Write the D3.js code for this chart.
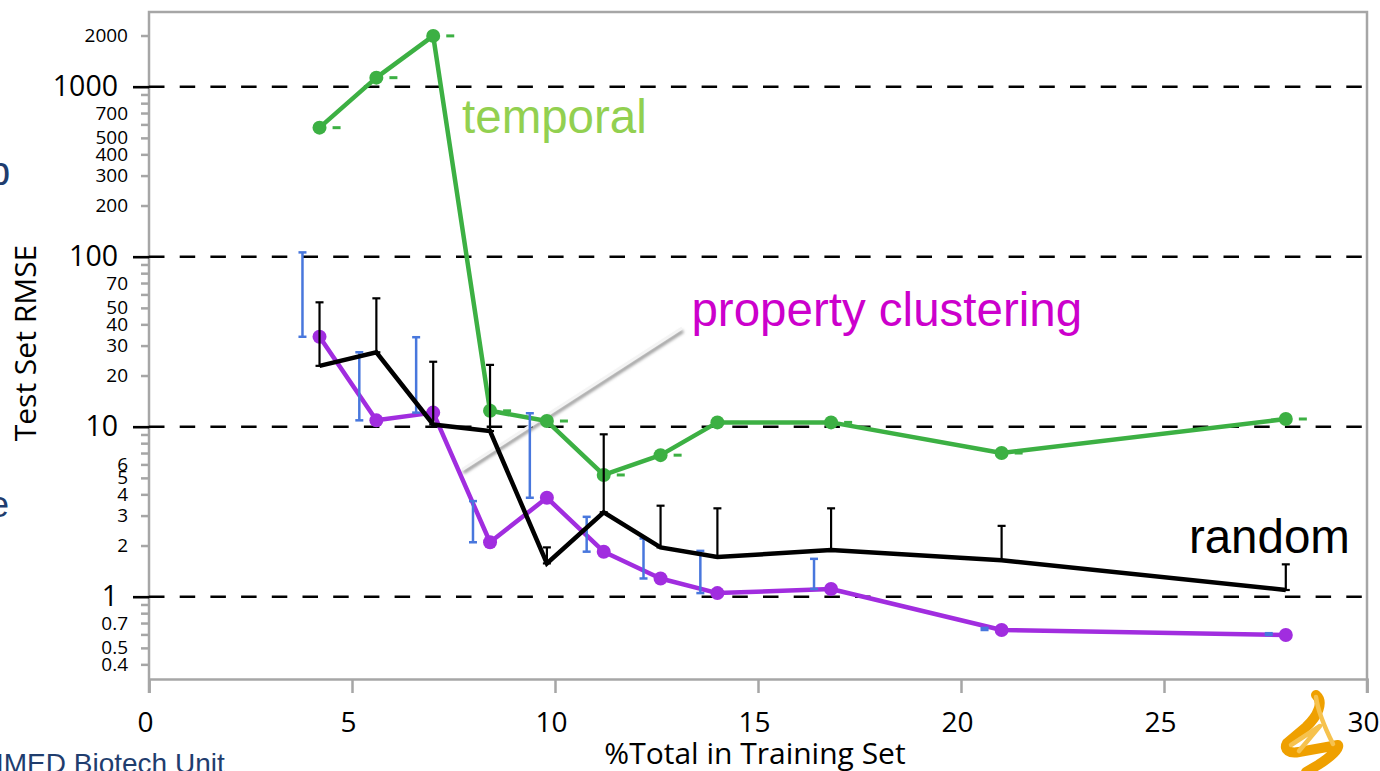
<!DOCTYPE html>
<html>
<head>
<meta charset="utf-8">
<script src="https://cdn.jsdelivr.net/npm/d3@7"></script>
<style>
html,body{margin:0;padding:0;background:#fff;}
svg{display:block;}
</style>
</head>
<body>
<svg id="chart" width="1380" height="771"></svg>
<script>
// ---- data ----
const trainPct = [4.2, 5.6, 7.0, 8.4, 9.8, 11.2, 12.6, 14.0, 16.8, 21.0, 28.0];
const temporal = [574, 1130, 1990, 12.4, 10.8, 5.2, 6.8, 10.6, 10.6, 7.0, 11.1];
const temporalErr = [0, 0, 0, 0, 0, 0, 0, 0, 0, 0, 0];
const propertyClustering = [33.8, 10.9, 12.1, 2.09, 3.82, 1.84, 1.28, 1.05, 1.11, 0.637, 0.595];
const propertyClusteringHi = [106, 27.4, 33.6, 3.65, 12.0, 2.95, 2.2, 1.86, 1.67, 0.655, 0.61];
const random = [22.8, 27.4, 10.3, 9.43, 1.57, 3.14, 1.95, 1.71, 1.88, 1.64, 1.095];
const randomHi = [53.9, 56.9, 24.1, 23.1, 1.95, 9.02, 3.43, 3.31, 3.31, 2.61, 1.55];

const xTicks = [0, 5, 10, 15, 20, 25, 30];
const yMajor = [1, 10, 100, 1000];
const yMinorTicks = [0.4,0.5,0.6,0.7,0.8,0.9, 2,3,4,5,6,7,8,9, 20,30,40,50,60,70,80,90, 200,300,400,500,600,700,800,900, 2000];
const yMinorLabels = [0.4,0.5,0.7, 2,3,4,5,6, 20,30,40,50,70, 200,300,400,500,700, 2000];

const labels = [
  {text: "temporal", x: 7.71, y: 534, color: "#92d050", anchor: "start"},
  {text: "property clustering", x: 13.36, y: 39.1, color: "#cc00cc", anchor: "start"},
  {text: "random", x: 29.58, y: 1.81, color: "#000000", anchor: "end"}
];
const leader = [[7.72, 5.6], [13.13, 38.1]];

// ---- layout ----
const svg = d3.select("#chart");
const pLeft = 149, pRight = 1367, pTop = 12, pBottom = 679;
const x = d3.scaleLinear().domain([0, 30]).range([pLeft, pRight]);
const y = d3.scaleLog().domain([0.328, 2750]).range([pBottom, pTop]);
const jitter = 0.42;
const axisGray = "#a6a6a6";
const fontUI = "'Open Sans','Noto Sans',sans-serif";

svg.append("rect").attr("width", 1380).attr("height", 771).attr("fill", "#fff");

// slide remnants
svg.append("text").attr("x", -12).attr("y", 185).attr("font-family", "Liberation Sans, Arial")
  .attr("font-size", 40).attr("fill", "#1f3d6e").text("b");
svg.append("text").attr("x", -11).attr("y", 517).attr("font-family", "Liberation Sans, Arial")
  .attr("font-size", 36).attr("fill", "#1f3d6e").text("e");
svg.append("text").attr("x", -4).attr("y", 773).attr("font-family", "Liberation Sans, Arial")
  .attr("font-size", 28).attr("fill", "#1f3d6e").text("IMED Biotech Unit");

// frame
const g = svg.append("g");
g.append("path")
  .attr("d", `M${pLeft},${pBottom + 14}V${pTop}H${pRight}V${pBottom + 14}`)
  .attr("fill", "none").attr("stroke", axisGray).attr("stroke-width", 2.5);

// x axis
const xAxis = d3.axisBottom(x).tickValues(xTicks).tickSize(14).tickFormat(d3.format("d"));
const gx = g.append("g").attr("transform", `translate(0,${pBottom})`).call(xAxis);
gx.select(".domain").attr("stroke", axisGray).attr("stroke-width", 2.5);
gx.selectAll(".tick line").attr("stroke", axisGray).attr("stroke-width", 2.5);
gx.selectAll(".tick text").attr("font-family", fontUI).attr("font-size", 28)
  .attr("fill", "#000").attr("dy", "1.3em").attr("dx", "-4");

// y minor ticks
const yMinorAxis = d3.axisLeft(y).tickValues(yMinorTicks).tickSize(8)
  .tickFormat(d => yMinorLabels.includes(d) ? String(d) : "");
const gyMinor = g.append("g").attr("transform", `translate(${pLeft},0)`).call(yMinorAxis);
gyMinor.select(".domain").remove();
gyMinor.selectAll(".tick line").attr("stroke", axisGray).attr("stroke-width", 2.5);
gyMinor.selectAll(".tick text").attr("font-family", fontUI).attr("font-size", 19)
  .attr("fill", "#000").attr("x", -21);

// y major ticks (dashed gridlines)
const yMajorAxis = d3.axisLeft(y).tickValues(yMajor).tickSize(16).tickFormat(d3.format("d"));
const gyMajor = g.append("g").attr("transform", `translate(${pLeft},0)`).call(yMajorAxis);
gyMajor.select(".domain").remove();
gyMajor.selectAll(".tick line").attr("stroke", "#000").attr("stroke-width", 2.6);
gyMajor.selectAll(".tick text").attr("font-family", fontUI).attr("font-size", 28.5)
  .attr("fill", "#000").attr("x", -31);
g.selectAll("line.grid").data(yMajor).join("line").attr("class", "grid")
  .attr("x1", pLeft).attr("x2", pRight).attr("y1", d => y(d)).attr("y2", d => y(d))
  .attr("stroke", "#000").attr("stroke-width", 2.6).attr("stroke-dasharray", "15.5,15.2");

// axis titles
svg.append("text").attr("x", 755).attr("y", 764).attr("text-anchor", "middle")
  .attr("font-family", fontUI).attr("font-size", 30).attr("fill", "#000").text("%Total in Training Set");
svg.append("text").attr("transform", "translate(36,343) rotate(-90)").attr("text-anchor", "middle")
  .attr("font-family", fontUI).attr("font-size", 30).attr("fill", "#000").text("Test Set RMSE");

// leader line with shadow
const defs = svg.append("defs");
defs.append("filter").attr("id", "sh").attr("x", "-20%").attr("y", "-20%").attr("width", "140%").attr("height", "140%")
  .append("feGaussianBlur").attr("stdDeviation", 1.5);
const lead = d3.line().x(d => x(d[0])).y(d => y(d[1]));
g.append("path").attr("d", lead(leader)).attr("transform", "translate(1,3)")
  .attr("stroke", "#9a9a9a").attr("stroke-width", 3.5).attr("fill", "none").attr("filter", "url(#sh)");
g.append("path").attr("d", lead(leader)).attr("stroke", "#f4f4f4").attr("stroke-width", 3).attr("fill", "none");

const line = d3.line().x((d, i) => x(trainPct[i])).y(d => y(d));

// temporal
const green = "#3cb043";
g.append("path").datum(temporal).attr("d", line).attr("fill", "none")
  .attr("stroke", green).attr("stroke-width", 4.5).attr("stroke-linejoin", "round");
g.selectAll("circle.tmp").data(temporal).join("circle").attr("class", "tmp")
  .attr("cx", (d, i) => x(trainPct[i])).attr("cy", d => y(d)).attr("r", 7).attr("fill", green);
g.selectAll("line.tmpErr").data(temporal).join("line").attr("class", "tmpErr")
  .attr("x1", (d, i) => x(trainPct[i] + jitter) - 4).attr("x2", (d, i) => x(trainPct[i] + jitter) + 4)
  .attr("y1", (d, i) => y(d * (1 + temporalErr[i]))).attr("y2", (d, i) => y(d * (1 + temporalErr[i])))
  .attr("stroke", green).attr("stroke-width", 3);

// property clustering
const purple = "#a12ddf";
const blue = "#4877dd";
g.append("path").datum(propertyClustering).attr("d", line).attr("fill", "none")
  .attr("stroke", purple).attr("stroke-width", 4.5).attr("stroke-linejoin", "round");
g.selectAll("circle.pc").data(propertyClustering).join("circle").attr("class", "pc")
  .attr("cx", (d, i) => x(trainPct[i])).attr("cy", d => y(d)).attr("r", 7).attr("fill", purple);
const pcErr = g.selectAll("g.pcErr").data(propertyClustering).join("g").attr("class", "pcErr");
pcErr.append("line")
  .attr("x1", (d, i) => x(trainPct[i] - jitter)).attr("x2", (d, i) => x(trainPct[i] - jitter))
  .attr("y1", d => y(d)).attr("y2", (d, i) => y(propertyClusteringHi[i]))
  .attr("stroke", blue).attr("stroke-width", 2.5);
[d => d, (d, i) => propertyClusteringHi[i]].forEach(f => {
  pcErr.append("line")
    .attr("x1", (d, i) => x(trainPct[i] - jitter) - 4).attr("x2", (d, i) => x(trainPct[i] - jitter) + 4)
    .attr("y1", (d, i) => y(f(d, i))).attr("y2", (d, i) => y(f(d, i)))
    .attr("stroke", blue).attr("stroke-width", 2.5);
});

// random
g.append("path").datum(random).attr("d", line).attr("fill", "none")
  .attr("stroke", "#000").attr("stroke-width", 4.5).attr("stroke-linejoin", "miter");
const rErr = g.selectAll("g.rErr").data(random).join("g").attr("class", "rErr");
rErr.append("line")
  .attr("x1", (d, i) => x(trainPct[i])).attr("x2", (d, i) => x(trainPct[i]))
  .attr("y1", d => y(d)).attr("y2", (d, i) => y(randomHi[i]))
  .attr("stroke", "#000").attr("stroke-width", 2.2);
[d => d, (d, i) => randomHi[i]].forEach(f => {
  rErr.append("line")
    .attr("x1", (d, i) => x(trainPct[i]) - 4).attr("x2", (d, i) => x(trainPct[i]) + 4)
    .attr("y1", (d, i) => y(f(d, i))).attr("y2", (d, i) => y(f(d, i)))
    .attr("stroke", "#000").attr("stroke-width", 2.2);
});

// series labels
g.selectAll("text.lbl").data(labels).join("text").attr("class", "lbl")
  .attr("x", d => x(d.x)).attr("y", d => y(d.y)).attr("text-anchor", d => d.anchor)
  .attr("font-family", "'Liberation Sans', Arial, sans-serif").attr("font-size", 47.5)
  .attr("fill", d => d.color).text(d => d.text);

// logo (decorative)
const logo = svg.append("g").attr("fill", "none").attr("stroke-linejoin", "round").attr("stroke-linecap", "round");
logo.append("path").attr("d", "M1316,695 C1324,702 1318,716 1306,727 L1287,743 C1283,750 1290,754 1299,752 L1338,745 C1340,748 1331,757 1318,765 L1306,772")
  .attr("stroke", "#efa000").attr("stroke-width", 10);
logo.append("path").attr("d", "M1316,697 C1318,712 1325,728 1333,744 M1291,745 L1320,726 L1299,751")
  .attr("stroke", "#f6c24e").attr("stroke-width", 4.5);
</script>
</body>
</html>
